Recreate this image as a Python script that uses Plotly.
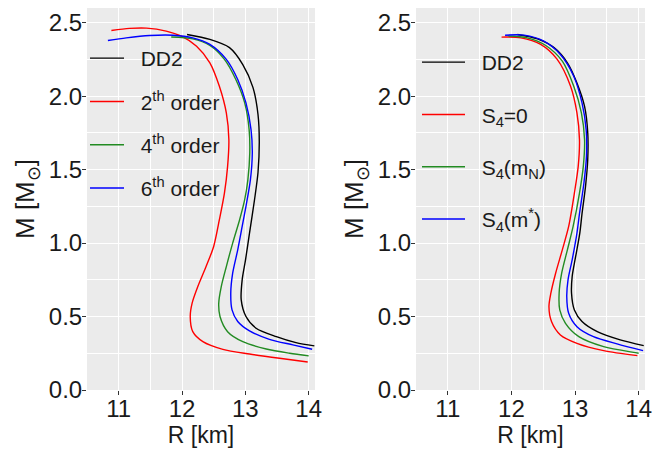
import plotly.graph_objects as go

# ---------------- data (left panel: expansion orders) ----------------
L_dd2_R = [12.08, 12.44, 12.75, 12.96, 13.12, 13.20, 13.22, 13.20, 13.145, 13.066, 13.003, 12.95, 12.935, 13.01, 13.17, 13.49, 13.80, 14.09]
L_dd2_M = [2.42, 2.386, 2.33, 2.215, 2.06, 1.875, 1.69, 1.48, 1.295, 1.068, 0.886, 0.75, 0.613, 0.50, 0.42, 0.363, 0.322, 0.30]

L_o2_R = [10.885, 11.17, 11.44, 11.75, 11.99, 12.23, 12.44, 12.59, 12.70, 12.74, 12.72, 12.67, 12.59, 12.50, 12.38, 12.25, 12.16, 12.13, 12.17, 12.33, 12.645, 13.066, 13.54, 13.985]
L_o2_M = [2.447, 2.461, 2.463, 2.443, 2.408, 2.34, 2.227, 2.067, 1.886, 1.704, 1.522, 1.34, 1.159, 0.977, 0.84, 0.704, 0.591, 0.50, 0.397, 0.329, 0.277, 0.245, 0.216, 0.191]

L_o4_R = [11.83, 12.17, 12.44, 12.67, 12.85, 12.99, 13.06, 13.07, 13.04, 12.99, 12.91, 12.80, 12.70, 12.62, 12.58, 12.60, 12.72, 12.96, 13.33, 13.70, 14.00]
L_o4_M = [2.403, 2.39, 2.345, 2.25, 2.113, 1.954, 1.772, 1.613, 1.43, 1.295, 1.159, 1.00, 0.84, 0.704, 0.591, 0.50, 0.397, 0.329, 0.279, 0.25, 0.232]

L_o6_R = [10.83, 11.12, 11.49, 11.86, 12.17, 12.44, 12.70, 12.88, 13.01, 13.09, 13.11, 13.08, 13.01, 12.95, 12.88, 12.80, 12.77, 12.79, 12.88, 13.066, 13.38, 13.75, 14.055]
L_o6_M = [2.379, 2.397, 2.413, 2.415, 2.397, 2.352, 2.25, 2.113, 1.954, 1.772, 1.613, 1.43, 1.25, 1.113, 0.954, 0.795, 0.659, 0.545, 0.466, 0.402, 0.345, 0.307, 0.277]

# ---------------- data (right panel: S4 variants) ----------------
R_dd2_R = [12.095, 12.41, 12.67, 12.88, 13.03, 13.15, 13.20, 13.20, 13.165, 13.11, 13.075, 13.01, 12.955, 12.945, 12.99, 13.11, 13.35, 13.71, 14.08]
R_dd2_M = [2.42, 2.39, 2.33, 2.227, 2.09, 1.93, 1.75, 1.57, 1.386, 1.20, 1.068, 0.909, 0.772, 0.659, 0.545, 0.466, 0.397, 0.341, 0.302]

R_s0_R = [11.845, 12.15, 12.46, 12.72, 12.93, 13.03, 13.07, 13.05, 12.99, 12.90, 12.80, 12.695, 12.62, 12.59, 12.63, 12.77, 13.03, 13.45, 13.98]
R_s0_M = [2.402, 2.397, 2.352, 2.25, 2.067, 1.886, 1.704, 1.522, 1.34, 1.113, 0.954, 0.795, 0.659, 0.568, 0.466, 0.375, 0.318, 0.268, 0.234]

R_sN_R = [11.94, 12.25, 12.54, 12.80, 12.98, 13.10, 13.15, 13.13, 13.07, 12.97, 12.88, 12.79, 12.75, 12.76, 12.85, 13.06, 13.45, 13.95, 14.00]
R_sN_M = [2.41, 2.397, 2.345, 2.238, 2.067, 1.886, 1.704, 1.522, 1.34, 1.113, 0.954, 0.795, 0.659, 0.545, 0.454, 0.363, 0.295, 0.254, 0.25]

R_sM_R = [11.90, 12.20, 12.51, 12.77, 12.98, 13.11, 13.175, 13.18, 13.14, 13.07, 13.03, 12.955, 12.89, 12.87, 12.90, 13.03, 13.29, 13.66, 14.07]
R_sM_M = [2.415, 2.415, 2.374, 2.284, 2.136, 1.954, 1.772, 1.59, 1.409, 1.20, 1.068, 0.886, 0.75, 0.636, 0.522, 0.431, 0.363, 0.314, 0.268]

PAD = "\u00a0\u00a0"
left_names = ["DD2", "2<sup>th</sup> order", "4<sup>th</sup> order", "6<sup>th</sup> order"]
right_names = ["DD2", "S<sub>4</sub>=0", "S<sub>4</sub>(m<sub>N</sub>)", "S<sub>4</sub>(m<sup>*</sup>)"]
colors = ["#000000", "#FF0000", "#228B22", "#0000FF"]

x_ticks = [11, 12, 13, 14]
y_ticks = [0.0, 0.5, 1.0, 1.5, 2.0, 2.5]
y_tick_text = ["0.0", "0.5", "1.0", "1.5", "2.0", "2.5"]

fig = go.Figure()

left_sets = [(L_dd2_R, L_dd2_M), (L_o2_R, L_o2_M), (L_o4_R, L_o4_M), (L_o6_R, L_o6_M)]
right_sets = [(R_dd2_R, R_dd2_M), (R_s0_R, R_s0_M), (R_sN_R, R_sN_M), (R_sM_R, R_sM_M)]

for i, (r, m) in enumerate(left_sets):
    fig.add_trace(go.Scatter(x=r, y=m, mode="lines", name=PAD + left_names[i],
                             line=dict(color=colors[i], width=1.4, shape="spline", smoothing=0.8),
                             xaxis="x", yaxis="y", legend="legend", legendgroup="l%d" % i))
for i, (r, m) in enumerate(right_sets):
    fig.add_trace(go.Scatter(x=r, y=m, mode="lines", name=PAD + right_names[i],
                             line=dict(color=colors[i], width=1.4, shape="spline", smoothing=0.8),
                             xaxis="x2", yaxis="y2", legend="legend2", legendgroup="r%d" % i))

W, H = 652, 449
ML, MR, MT, MB = 87, 7, 8, 59
PW, PH = W - ML - MR, H - MT - MB
font = "Liberation Sans, Arial, sans-serif"
txt = "#1a1a1a"

def xax(domain, anchor):
    return dict(domain=domain, anchor=anchor, range=[10.5, 14.1], tickvals=x_ticks,
                ticks="outside", ticklen=4, tickcolor="#333333", tickwidth=1,
                tickfont=dict(size=24, color=txt, family=font), ticklabelstandoff=-7,
                ticklabeloverflow="allow",
                showgrid=True, gridcolor="white", gridwidth=1.2,
                minor=dict(dtick=0.5, tick0=10.5, showgrid=True, gridcolor="white", gridwidth=0.6, ticks=""),
                zeroline=False, showline=False, automargin=False,
                title=dict(text="R [km]", font=dict(size=23, color=txt, family=font), standoff=2))

def yax(domain, anchor):
    return dict(domain=domain, anchor=anchor, range=[0, 2.6], tickvals=y_ticks, ticktext=y_tick_text,
                ticks="outside", ticklen=4, tickcolor="#333333", tickwidth=1,
                tickfont=dict(size=24, color=txt, family=font), ticklabelstandoff=-5,
                showgrid=True, gridcolor="white", gridwidth=1.2,
                minor=dict(dtick=0.5, tick0=0.25, showgrid=True, gridcolor="white", gridwidth=0.6, ticks=""),
                zeroline=False, showline=False, automargin=False,
                title=dict(text="M [M<sub>⊙</sub>]", font=dict(size=26, color=txt, family=font), standoff=6))

def px_x(X):
    return (X - ML) / PW

def px_y(Y):
    return 1 - (Y - MT) / PH

legend_common = dict(bgcolor="rgba(0,0,0,0)", font=dict(size=21, color=txt, family=font),
                     xanchor="left", yanchor="top", traceorder="grouped")

fig.update_layout(
    width=W, height=H,
    margin=dict(l=ML, r=MR, t=MT, b=MB),
    paper_bgcolor="white",
    plot_bgcolor="#EBEBEB",
    font=dict(family=font, size=21, color=txt),
    xaxis=xax([0, px_x(315)], "y"),
    yaxis=yax([0, 1], "x"),
    xaxis2=xax([px_x(416), 1], "y2"),
    yaxis2=yax([0, 1], "x2"),
    legend=dict(x=px_x(85), y=px_y(38), tracegroupgap=13, itemwidth=34, **legend_common),
    legend2=dict(x=px_x(417), y=px_y(42), tracegroupgap=22, itemwidth=43, **legend_common),
    showlegend=True,
)

fig.write_html("out.html", config={"displayModeBar": False},
               post_script="document.body.style.margin='0px';")
